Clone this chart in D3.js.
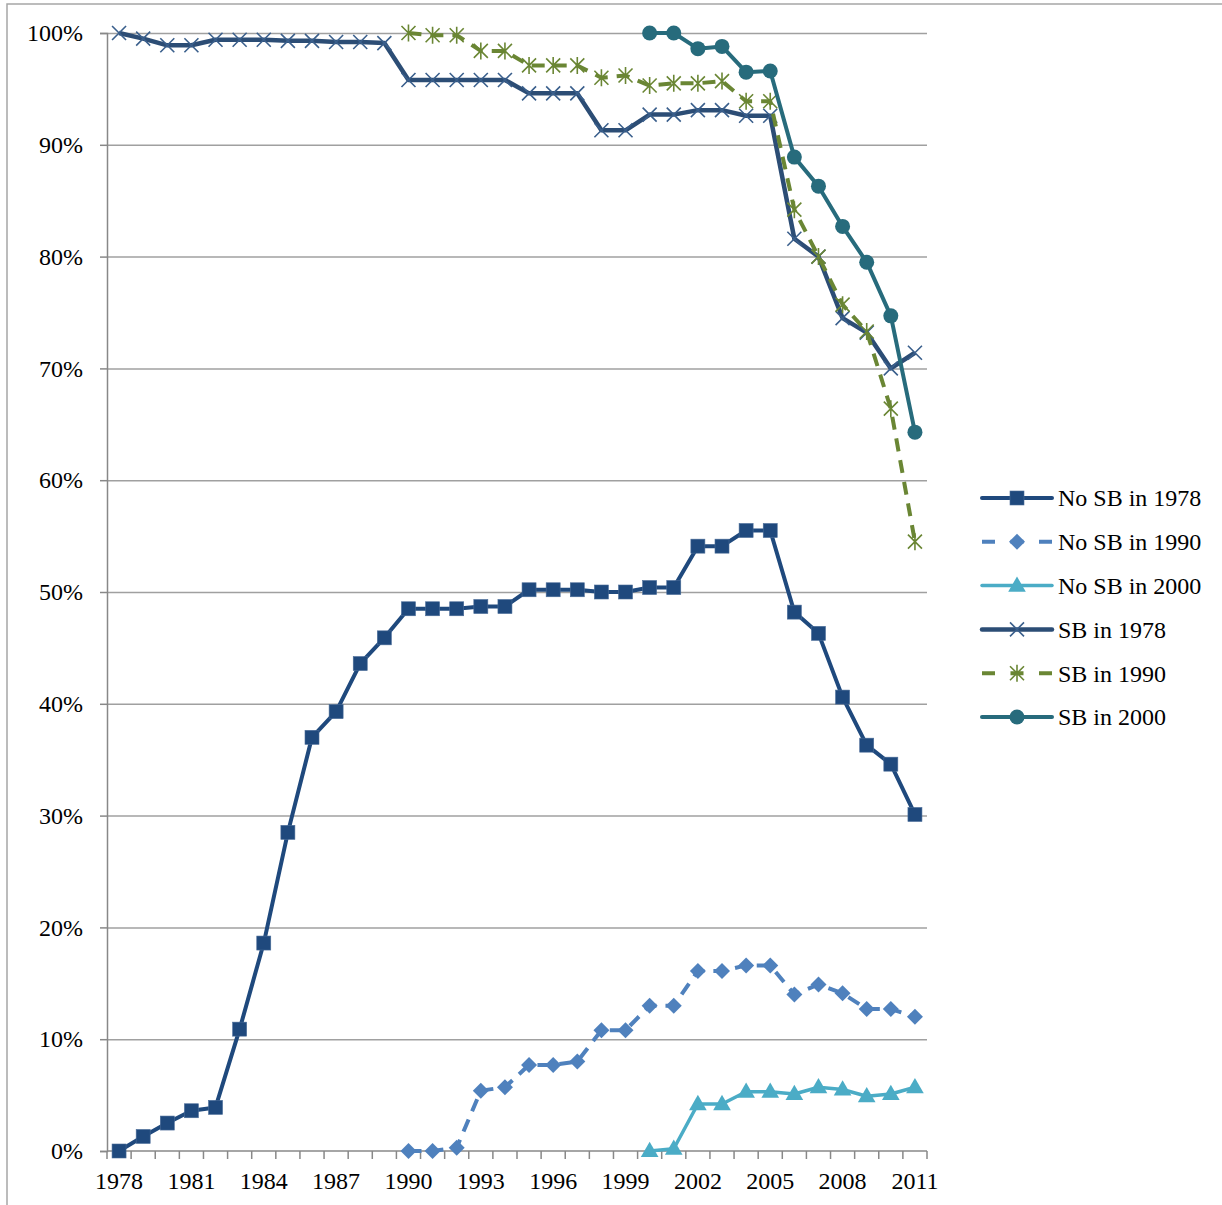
<!DOCTYPE html>
<html>
<head>
<meta charset="utf-8">
<script src="https://cdn.jsdelivr.net/npm/d3@7"></script>
<style>
  body { margin: 0; background: #fff; }
  svg { display: block; font-family: "Liberation Serif", "Times New Roman", serif; }
</style>
</head>
<body>
<svg class="chart" width="1222" height="1205"></svg>
<script>
var width = 1222, height = 1205;

// categories
var years = [1978, 1979, 1980, 1981, 1982, 1983, 1984, 1985, 1986, 1987, 1988, 1989,
             1990, 1991, 1992, 1993, 1994, 1995, 1996, 1997, 1998, 1999, 2000, 2001,
             2002, 2003, 2004, 2005, 2006, 2007, 2008, 2009, 2010, 2011];
var labelYears = [1978, 1981, 1984, 1987, 1990, 1993, 1996, 1999, 2002, 2005, 2008, 2011];
var yTicks = [0, 0.1, 0.2, 0.3, 0.4, 0.5, 0.6, 0.7, 0.8, 0.9, 1];

// series values (percent), each starts at its own year
var noSb1978 = [0, 1.3, 2.5, 3.6, 3.9, 10.9, 18.6, 28.5, 37.0, 39.3, 43.6, 45.9,
                48.5, 48.5, 48.5, 48.7, 48.7, 50.2, 50.2, 50.2, 50.0, 50.0, 50.4, 50.4,
                54.1, 54.1, 55.5, 55.5, 48.2, 46.3, 40.6, 36.3, 34.6, 30.1];
var noSb1990 = [0, 0, 0.3, 5.4, 5.7, 7.7, 7.7, 8.0, 10.8, 10.8, 13.0, 13.0,
                16.1, 16.1, 16.6, 16.6, 14.0, 14.9, 14.1, 12.7, 12.7, 12.0];
var noSb2000 = [0, 0.2, 4.2, 4.2, 5.3, 5.3, 5.1, 5.7, 5.5, 4.9, 5.1, 5.7];
var sb1978 = [100, 99.5, 98.9, 98.9, 99.4, 99.4, 99.4, 99.3, 99.3, 99.2, 99.2, 99.1,
              95.8, 95.8, 95.8, 95.8, 95.8, 94.6, 94.6, 94.6, 91.3, 91.3, 92.7, 92.7,
              93.1, 93.1, 92.6, 92.6, 81.6, 80.0, 74.5, 73.2, 70.0, 71.4];
var sb1990 = [100, 99.8, 99.8, 98.4, 98.4, 97.1, 97.1, 97.1, 96.0, 96.2, 95.3, 95.5,
              95.5, 95.7, 93.9, 93.9, 84.2, 80.0, 75.7, 73.3, 66.4, 54.5];
var sb2000 = [100, 100, 98.6, 98.8, 96.5, 96.6, 88.9, 86.3, 82.7, 79.5, 74.7, 64.3];

var seriesNames = ["No SB in 1978", "No SB in 1990", "No SB in 2000", "SB in 1978", "SB in 1990", "SB in 2000"];
var seriesStart = [1978, 1990, 2000, 1978, 1990, 2000];
var seriesValues = [noSb1978, noSb1990, noSb2000, sb1978, sb1990, sb2000];
var seriesColors = ["#1F497D", "#4F81BD", "#4BACC6", "#2C4D75", "#6A8634", "#276B7C"];

var styles = [
    {width: 4, dash: null, marker: "square"},
    {width: 4, dash: "13,9", marker: "diamond"},
    {width: 3.5, dash: null, marker: "triangle"},
    {width: 4.5, dash: null, marker: "x"},
    {width: 4, dash: "13,9", marker: "star"},
    {width: 4, dash: null, marker: "circle"}
];

var series = seriesNames.map((name, i) => ({
    name: name,
    color: seriesColors[i],
    style: styles[i],
    points: seriesValues[i].map((v, j) => ({year: seriesStart[i] + j, value: v / 100}))
}));

var plot = {left: 107, right: 927, top: 33, bottom: 1151};

var x = d3.scaleBand()
    .domain(years)
    .range([plot.left, plot.right]);

var y = d3.scaleLinear()
    .domain([0, 1])
    .range([plot.bottom, plot.top]);

var cx = yr => x(yr) + x.bandwidth() / 2;

var svg = d3.select(".chart");

// outer frame (top + left edges only)
svg.append("path")
    .attr("d", `M7,${height}V4H${width}`)
    .attr("fill", "none")
    .attr("stroke", "#A6A6A6")
    .attr("stroke-width", 1.5);

// gridlines
svg.append("g")
    .attr("transform", `translate(${plot.left},0)`)
    .call(d3.axisLeft(y).tickValues(yTicks.slice(1)).tickSize(-(plot.right - plot.left)).tickFormat(""))
    .call(g => g.select(".domain").remove())
    .selectAll("line")
        .attr("stroke", "#A0A0A0")
        .attr("stroke-width", 1.5);

// y axis
svg.append("g")
    .attr("transform", `translate(${plot.left},0)`)
    .call(d3.axisLeft(y).tickValues(yTicks).tickSize(7).tickPadding(17).tickFormat(d3.format(".0%")))
    .call(g => g.select(".domain").attr("stroke", "#888").attr("stroke-width", 1.5))
    .call(g => g.selectAll("line").attr("stroke", "#888").attr("stroke-width", 1.5))
    .call(g => g.selectAll("text")
        .attr("fill", "#000")
        .style("font-size", "24px")
        .style("font-family", "'Liberation Serif', serif"));

// x axis: tick marks on category boundaries, labels every third year
var xAxis = svg.append("g")
    .attr("transform", `translate(0,${plot.bottom})`);

xAxis.append("line")
    .attr("x1", plot.left).attr("x2", plot.right)
    .attr("stroke", "#888").attr("stroke-width", 1.5);

xAxis.selectAll(".tk")
    .data(years.map(yr => x(yr)).concat([x.range()[1]]))
    .join("line")
        .attr("class", "tk")
        .attr("x1", d => d).attr("x2", d => d)
        .attr("y1", 0).attr("y2", 8)
        .attr("stroke", "#888").attr("stroke-width", 1.5);

xAxis.selectAll("text")
    .data(labelYears)
    .join("text")
        .attr("x", d => cx(d))
        .attr("y", 38)
        .attr("text-anchor", "middle")
        .style("font-size", "24px")
        .text(d => d);

// marker drawing
function drawMarker(sel, kind, color) {
    if (kind === "square") {
        sel.append("rect")
            .attr("x", -7).attr("y", -7).attr("width", 14).attr("height", 14)
            .attr("fill", color).attr("stroke", "#4A6C98").attr("stroke-width", 0.6);
    } else if (kind === "diamond") {
        sel.append("path")
            .attr("d", "M0,-8L8,0L0,8L-8,0Z")
            .attr("fill", color);
    } else if (kind === "triangle") {
        sel.append("path")
            .attr("d", d3.symbol(d3.symbolTriangle, 135))
            .attr("transform", "translate(0,1)")
            .attr("fill", color);
    } else if (kind === "x") {
        sel.append("path")
            .attr("d", "M-7,-7L7,7M-7,7L7,-7")
            .attr("stroke", "#3A5F8C").attr("stroke-width", 1.6).attr("fill", "none");
    } else if (kind === "star") {
        sel.append("path")
            .attr("d", "M-7,-7L7,7M-7,7L7,-7M0,-8.5V8.5")
            .attr("stroke", color).attr("stroke-width", 1.6).attr("fill", "none");
    } else if (kind === "circle") {
        sel.append("circle")
            .attr("r", 7.5)
            .attr("fill", color);
    }
}

var line = d3.line()
    .x(d => cx(d.year))
    .y(d => y(d.value));

var seriesG = svg.append("g")
    .selectAll("g")
    .data(series)
    .join("g");

seriesG.append("path")
    .attr("d", d => line(d.points))
    .attr("fill", "none")
    .attr("stroke", d => d.color)
    .attr("stroke-width", d => d.style.width)
    .attr("stroke-linejoin", "round")
    .attr("stroke-dasharray", d => d.style.dash);

seriesG.each(function(s) {
    d3.select(this).selectAll(".mk")
        .data(s.points)
        .join("g")
            .attr("class", "mk")
            .attr("transform", d => `translate(${cx(d.year)},${y(d.value)})`)
            .each(function() { drawMarker(d3.select(this), s.style.marker, s.color); });
});

// legend
var legend = svg.append("g")
    .attr("transform", "translate(982,498)")
    .selectAll("g")
    .data(series)
    .join("g")
        .attr("transform", (d, i) => `translate(0,${i * 43.8})`);

legend.append("line")
    .attr("x1", 0).attr("x2", 70)
    .attr("stroke", d => d.color)
    .attr("stroke-width", d => d.style.width)
    .attr("stroke-linecap", d => d.style.dash ? "butt" : "round")
    .attr("stroke-dasharray", d => d.style.dash ? "13,15.5" : null);

legend.append("g")
    .attr("transform", "translate(35,0)")
    .each(function(d) { drawMarker(d3.select(this), d.style.marker, d.color); });

legend.append("text")
    .attr("x", 76)
    .attr("dy", "0.35em")
    .style("font-size", "24px")
    .text(d => d.name);
</script>
</body>
</html>
